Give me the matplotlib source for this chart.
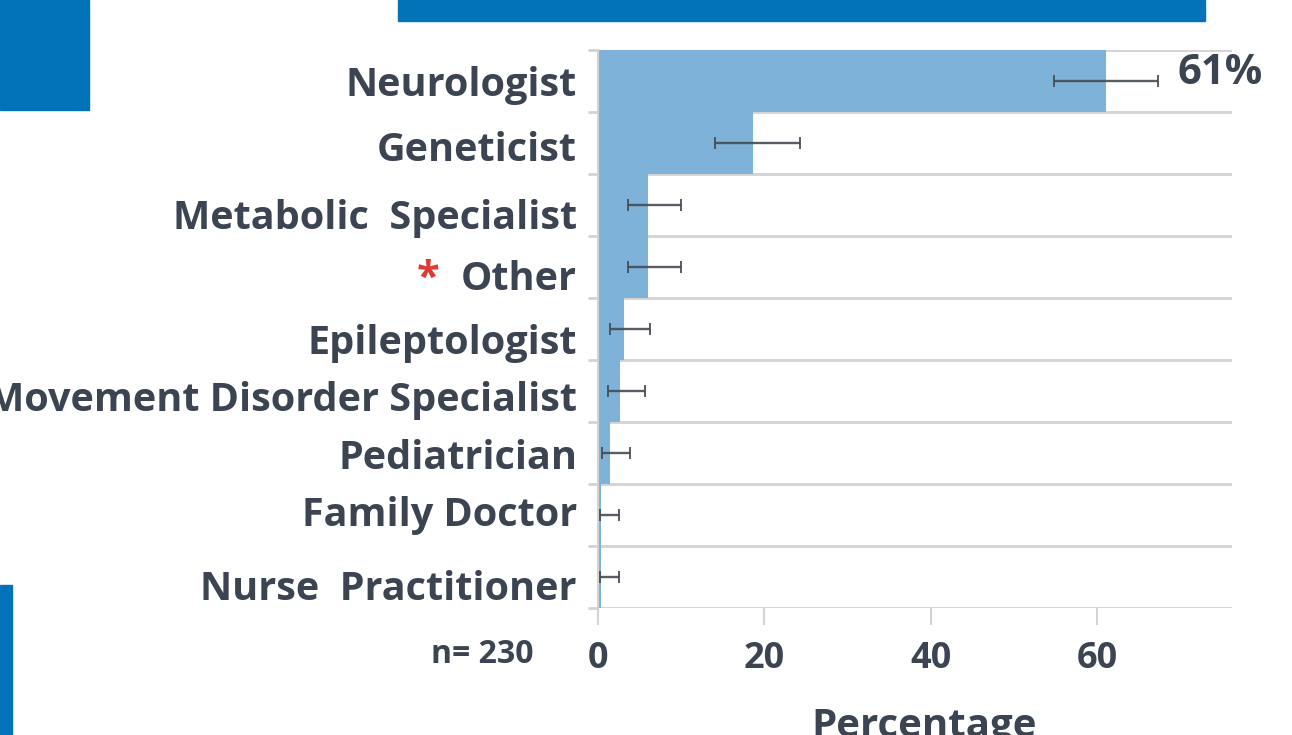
import numpy as np
import matplotlib.pyplot as plt
from matplotlib.patches import Rectangle
from matplotlib.transforms import blended_transform_factory

# Data
categories = ['Neurologist', 'Geneticist', 'Metabolic  Specialist', 'Other',
              'Epileptologist', 'Movement Disorder Specialist', 'Pediatrician',
              'Family Doctor', 'Nurse  Practitioner']
pct = [61.1, 18.6, 6.0, 6.0, 3.1, 2.7, 1.4, 0.4, 0.4]
err_lo = [54.8, 14.1, 3.6, 3.6, 1.5, 1.2, 0.5, 0.2, 0.2]
err_hi = [67.3, 24.3, 10.0, 10.0, 6.3, 5.7, 3.8, 2.5, 2.5]
xticks = [0, 20, 40, 60]

# small vertical nudges of the category labels (in rows), as on the slide
label_dy = [0.0, 0.05, 0.14, 0.13, 0.16, 0.08, 0.02, -0.06, 0.13]

txt = '#3b4450'
blue = '#0273b9'
barc = '#7fb2d9'
grid = '#d3d3d3'

plt.rcParams['font.family'] = ['Open Sans', 'DejaVu Sans']

fig = plt.figure(figsize=(12.92, 7.35), dpi=100)

# decorative blocks from the slide
fig.patches.append(Rectangle((398/1292, 1-21/735), 807/1292, 21/735,
                             transform=fig.transFigure, color=blue, zorder=0))
fig.patches.append(Rectangle((0, 1-110/735), 89/1292, 110/735,
                             transform=fig.transFigure, color=blue, zorder=0))
fig.patches.append(Rectangle((0, 0), 12/1292, 150/735,
                             transform=fig.transFigure, color=blue, zorder=0))

ax = fig.add_axes([598/1292, 1-608/735, 634/1292, 558/735])

y = np.arange(len(categories))
pct = np.array(pct)
xerr = [pct - np.array(err_lo), np.array(err_hi) - pct]
ax.barh(y, pct, height=1.0, color=barc, zorder=2)
ax.errorbar(pct, y, xerr=xerr, fmt='none', ecolor='#454b52', elinewidth=1.7,
            capsize=4.5, capthick=1.4, alpha=0.9, zorder=3)

ax.set_ylim(len(categories) - 0.5, -0.5)
ax.set_xlim(0, 76.2)

# row separators (Excel-style)
ax.set_yticks(np.arange(len(categories) + 1) - 0.5, minor=True)
ax.grid(True, which='minor', axis='y', color=grid, linewidth=2, zorder=1)
ax.tick_params(axis='y', which='minor', length=7, width=2, color=grid)
ax.set_yticks(y)
ax.set_yticklabels([])
ax.tick_params(axis='y', which='major', length=0)

trans = blended_transform_factory(ax.transAxes, ax.transData)
for i, name in enumerate(categories):
    ax.text(-21/634, i + label_dy[i], name, transform=trans, fontsize=28.5,
            fontweight='bold', color=txt, ha='right', va='center_baseline')

ax.set_xticks(xticks)
ax.set_xticklabels([str(v) for v in xticks], fontsize=26, fontweight='bold', color=txt)
ax.tick_params(axis='x', length=12, width=1.5, color=grid, pad=12)

for s in ['top', 'right', 'bottom']:
    ax.spines[s].set_visible(False)
ax.spines['left'].set_color(grid)
ax.spines['left'].set_linewidth(1.5)

ax.set_xlabel('Percentage', fontsize=29, fontweight='bold', color=txt)
ax.xaxis.set_label_coords(0.515, -0.177)

ax.text(err_hi[0] + 2.4, -0.12, '61%', fontsize=30, fontweight='bold',
        color=txt, ha='left', va='center')
ax.text(-7.7, len(categories) - 0.5 + 0.75, 'n= 230', fontsize=23, fontweight='bold',
        color=txt, ha='right', va='center')
ax.text(-20.4, 3.2, '*', fontsize=30, fontweight='bold', color='#e03a33',
        ha='center', va='center')

fig.savefig('out.png', dpi=100)
